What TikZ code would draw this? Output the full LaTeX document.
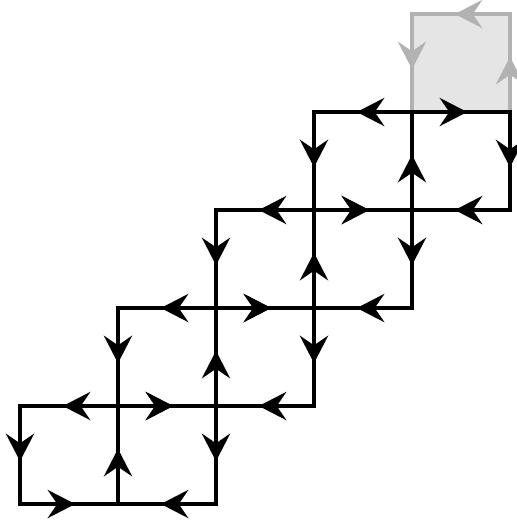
\documentclass[tikz,border=0pt]{standalone}
\usetikzlibrary{arrows.meta,decorations.markings}

\tikzset{
  flow/.style={line cap=rect, postaction={decorate},
    decoration={markings, mark=at position 0.5 with
      {\arrow[xshift=1.8pt]{Stealth[length=8pt,width=8.2pt,inset=2.8pt]}}}},
}

\begin{document}
\begin{tikzpicture}[line width=0.9pt]

  \useasboundingbox (-0.204,-0.163) rectangle (5.071,5.143);

  % Shaded plaquette
  \coordinate (G1) at (4,4);
  \coordinate (G2) at (5,4);
  \coordinate (G3) at (5,5);
  \coordinate (G4) at (4,5);
  \fill[gray!20] (G1) rectangle (G3);
  \draw[flow, gray!60] (G2) -- (G3);
  \draw[flow, gray!60] (G3) -- (G4);
  \draw[flow, gray!60] (G4) -- (G1);

  % Staircase of double cells
  \foreach \i in {0,...,3} {
    \coordinate (SW) at (\i,\i);
    \coordinate (S)  at (\i+1,\i);
    \coordinate (SE) at (\i+2,\i);
    \coordinate (NW) at (\i,\i+1);
    \coordinate (N)  at (\i+1,\i+1);
    \coordinate (NE) at (\i+2,\i+1);

    % top edge
    \draw[flow] (N) -- (NW);
    \draw[flow] (N) -- (NE);
    % sides
    \draw[flow] (NW) -- (SW);
    \draw[flow] (NE) -- (SE);
    \draw[flow] (S) -- (N);
    % bottom edge
    \draw[flow] (SW) -- (S);
    \draw[flow] (SE) -- (S);
  }

\end{tikzpicture}
\end{document}
